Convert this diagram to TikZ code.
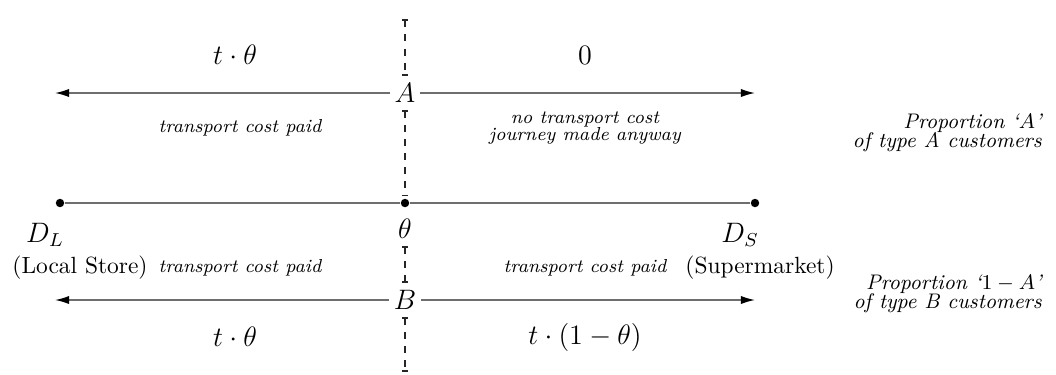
\documentclass[tikz,border=0pt]{standalone}
\usepackage{amsmath}
\usepackage{amssymb}
\usetikzlibrary{positioning, arrows.meta, calc}
\definecolor{linegrey}{RGB}{110,110,110}
\tikzset{
    dot/.style={circle, fill=black, inner sep=0pt, minimum size=3.6pt},
    ptlabel/.style={inner sep=1pt, font=\large},
    splitlbl/.style={fill=white, inner sep=2pt, font=\large},
    costval/.style={font=\large},
    costnote/.style={font=\footnotesize\itshape, align=center},
    storelbl/.style={font=\normalsize},
    proplbl/.style={font=\small\itshape, align=right, anchor=east},
    arr/.style={-{Latex[length=6pt, width=3.5pt, color=black]}, color=linegrey, line width=0.6pt},
    road/.style={color=linegrey, line width=0.6pt},
    divider/.style={dashed, color=black!85, line width=0.6pt, {Bar[width=2.5pt]}-{Bar[width=2.5pt]}, shorten >=1pt, shorten <=1pt}
}

\begin{document}
\begin{tikzpicture}[x=0.015cm, y=-0.015cm]
    \useasboundingbox (0,0) rectangle (1056,374);

    % the road between the two stores
    \node[dot] (dl) at (60,203) {};
    \node[dot] (mid) at (405,203) {};
    \node[dot] (ds) at (755,203) {};
    \draw[road] (dl) -- (mid) -- (ds);
    \node[ptlabel] (dllbl) at (45,235) {$D_L$};
    \node[splitlbl] (theta) at (405,229) {$\theta$};
    \node[ptlabel] (dslbl) at (740,235) {$D_S$};
    \node[storelbl] (local) at (80,268) {(Local Store)};
    \node[storelbl] (super) at (760,268) {(Supermarket)};

    % type A customers
    \node[splitlbl] (acust) at (405,93) {$A$};
    \coordinate (aleft) at (55,93);
    \coordinate (aright) at (755,93);
    \draw[arr] (acust) -- (aleft);
    \draw[arr] (acust) -- (aright);
    \node[costval] (acostl) at (235,55) {$t\cdot\theta$};
    \node[costval] (acostr) at (585,55) {$0$};
    \node[costnote] (anotel) at (240,128) {transport cost paid};
    \node[costnote] (anoter) at (585,128) {no transport cost\\[-2pt]journey made anyway};

    % type B customers
    \node[splitlbl] (bcust) at (405,300) {$B$};
    \coordinate (bleft) at (55,300);
    \coordinate (bright) at (755,300);
    \draw[arr] (bcust) -- (bleft);
    \draw[arr] (bcust) -- (bright);
    \node[costval] (bcostl) at (235,337) {$t\cdot\theta$};
    \node[costval] (bcostr) at (585,337) {$t\cdot(1-\theta)$};
    \node[costnote] (bnotel) at (240,268) {transport cost paid};
    \node[costnote] (bnoter) at (585,268) {transport cost paid};

    % dividing line at theta
    \coordinate (divtop) at (405,17);
    \coordinate (divbot) at (405,374);
    \draw[divider] (divtop) -- (acust);
    \draw[divider] (acust) -- (mid);
    \draw[divider] (theta) -- (bcust);
    \draw[divider] (bcust) -- (divbot);

    % proportions
    \node[proplbl] (propa) at (1050,133) {Proportion `$A$'\\[-3pt]of type A customers};
    \node[proplbl] (propb) at (1050,294) {Proportion `$1-A$'\\[-3pt]of type B customers};
\end{tikzpicture}
\end{document}
